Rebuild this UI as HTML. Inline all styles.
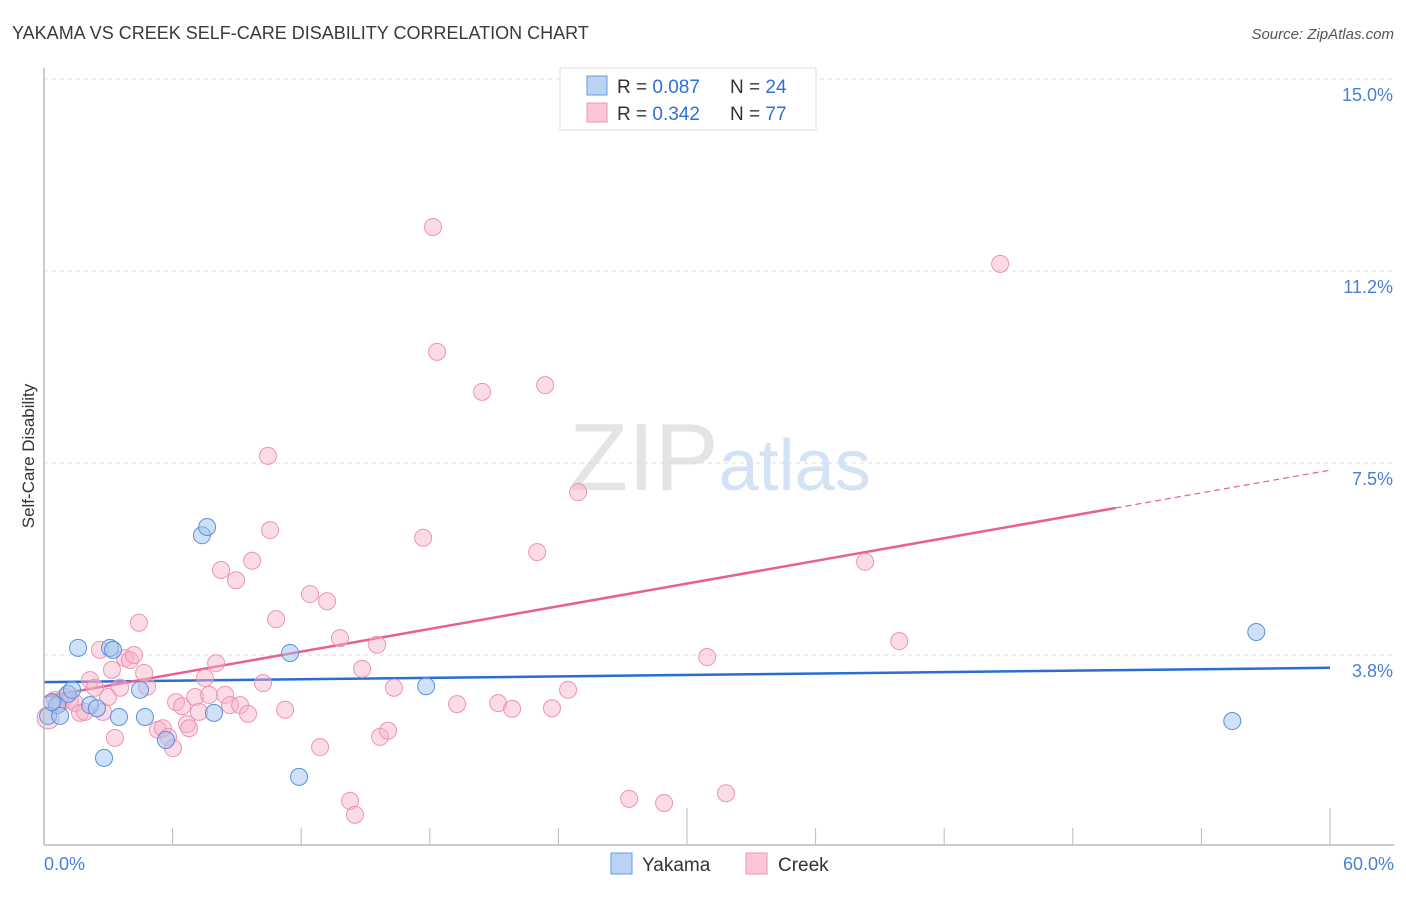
<!DOCTYPE html>
<html><head><meta charset="utf-8"><style>
body{margin:0;background:#fff;font-family:"Liberation Sans",sans-serif}
svg text{font-family:"Liberation Sans",sans-serif}
</style></head><body>
<svg id="chart" width="1406" height="892" xmlns="http://www.w3.org/2000/svg">
<text x="12" y="39" font-size="18" fill="#3a3a3a">YAKAMA VS CREEK SELF-CARE DISABILITY CORRELATION CHART</text>
<text x="1394" y="39" font-size="15" fill="#555" font-style="italic" text-anchor="end">Source: ZipAtlas.com</text>
<text x="720" y="490" font-size="96" text-anchor="middle" fill="#e4e4e4" font-family="Liberation Serif">ZIP<tspan fill="#d3e2f5" font-family="Liberation Sans" font-size="72">atlas</tspan></text>
<text transform="translate(34,456) rotate(-90)" font-size="17" fill="#333" text-anchor="middle">Self-Care Disability</text>
<g id="grid"></g><g id="ticks"></g><g id="trend"></g><g id="pts"></g>
<line x1="44" y1="845" x2="1394" y2="845" stroke="#bbb" stroke-width="1.5"/>
<line x1="44" y1="68" x2="44" y2="845" stroke="#bbb" stroke-width="1.5"/>
<text x="44" y="870" font-size="18" fill="#4a7fd6">0.0%</text>
<text x="1394" y="870" font-size="18" fill="#4a7fd6" text-anchor="end">60.0%</text>
<g>
<rect x="560" y="68" width="256" height="62" fill="#fff" stroke="#ddd"/>
<rect x="587" y="76" width="20" height="19" fill="#b8d3f5" stroke="#6a9be0"/>
<rect x="587" y="103" width="20" height="19" fill="#fbc6d6" stroke="#ee94b0"/>
<text x="617" y="93" font-size="19" fill="#333">R = <tspan fill="#2f6fd6">0.087</tspan><tspan x="730">N = </tspan><tspan fill="#2f6fd6">24</tspan></text>
<text x="617" y="120" font-size="19" fill="#333">R = <tspan fill="#2f6fd6">0.342</tspan><tspan x="730">N = </tspan><tspan fill="#2f6fd6">77</tspan></text>
</g>
<g>
<rect x="611" y="853" width="21" height="21" fill="#b8d3f5" stroke="#6a9be0"/>
<text x="642" y="871" font-size="19" fill="#333">Yakama</text>
<rect x="746" y="853" width="21" height="21" fill="#fbc6d6" stroke="#ee94b0"/>
<text x="778" y="871" font-size="19" fill="#333">Creek</text>
</g>
</svg>
<script>
const yTicks=[3.75,7.5,11.25,15];
const yTickLabels=["3.8%","7.5%","11.2%","15.0%"];
const xTicks=[0,6,12,18,24,30,36,42,48,54,60];
const yakamaX=[0.19,0.61,0.75,1.12,1.31,1.59,2.15,2.47,2.80,3.08,3.22,3.50,4.48,4.71,5.69,7.37,7.61,7.93,11.48,11.90,17.83,55.44,56.56,0.37];
const yakamaY=[2.56,2.77,2.56,2.99,3.07,3.89,2.77,2.71,1.74,3.89,3.85,2.54,3.07,2.54,2.09,6.09,6.25,2.62,3.79,1.37,3.14,2.46,4.20,2.83];
const creekX=[0.19,0.51,0.75,0.98,1.21,1.45,1.68,1.91,2.15,2.38,2.61,2.75,2.99,3.17,3.31,3.55,3.78,4.01,4.20,4.43,4.67,4.81,5.32,5.55,5.79,6.02,6.16,6.44,6.67,6.77,7.05,7.23,7.51,7.70,8.03,8.26,8.45,8.68,8.96,9.15,9.52,9.71,10.22,10.45,10.55,10.83,11.25,12.41,12.88,13.21,13.81,14.28,14.51,14.84,15.54,15.68,16.05,16.33,17.69,18.15,18.34,19.27,20.44,21.19,21.84,23.01,23.38,23.70,24.45,24.92,27.30,28.93,30.94,31.82,38.31,39.90,44.61];
const creekY=[2.52,2.87,2.81,2.93,2.87,2.81,2.62,2.64,3.26,3.11,3.85,2.64,2.93,3.46,2.13,3.11,3.69,3.65,3.75,4.38,3.40,3.13,2.29,2.32,2.15,1.93,2.83,2.75,2.40,2.32,2.93,2.64,3.30,2.97,3.59,5.41,2.97,2.77,5.21,2.77,2.60,5.59,3.20,7.64,6.19,4.45,2.68,4.94,1.95,4.80,4.08,0.90,0.63,3.48,3.95,2.15,2.27,3.11,6.04,12.11,9.67,2.79,8.89,2.81,2.70,5.76,9.02,2.71,3.07,6.93,0.94,0.86,3.71,1.05,5.57,4.02,11.39];
const yakamaTrend=[3.22,3.50];
const creekTrend=[2.93,7.36];
const creekSolidEnd=50;
const NS="http://www.w3.org/2000/svg";
const X=v=>44+v*(1286/60);
const Y=v=>655-(v-3.75)*51.2;
function mk(parent,tag,attrs){const e=document.createElementNS(NS,tag);for(const k in attrs)e.setAttribute(k,attrs[k]);document.getElementById(parent).appendChild(e);return e;}
yTicks.forEach((t,i)=>{
 const l=mk('grid','line',{x1:44,x2:1394,y1:Y(t),y2:Y(t),stroke:'#ddd','stroke-dasharray':'4,4'});
 
 
 const tx=mk('grid','text',{x:1393,y:Y(t)+22,'font-size':18,fill:'#4a7fd6','text-anchor':'end'});
 tx.textContent=yTickLabels[i];
 
 
});
const topGrid=mk('grid','line',{x1:44,x2:1394,y1:Y(15),y2:Y(15),stroke:'#ddd','stroke-dasharray':'4,4'});
xTicks.forEach(t=>{
 const tall=(t===30||t===60);
 const l=mk('ticks','line',{x1:X(t),x2:X(t),y1:tall?808:828,y2:845,stroke:'#bbb'});
 
 
});
const bl=mk('trend','line',{x1:X(0),y1:Y(yakamaTrend[0]),x2:X(60),y2:Y(yakamaTrend[1]),stroke:'#2a6dd4','stroke-width':2.5});


const cAt=x=>creekTrend[0]+(creekTrend[1]-creekTrend[0])*x/60;
const pl=mk('trend','line',{x1:X(0),y1:Y(cAt(0)),x2:X(creekSolidEnd),y2:Y(cAt(creekSolidEnd)),stroke:'#e8608e','stroke-width':2.5});


const pd=mk('trend','line',{x1:X(creekSolidEnd),y1:Y(cAt(creekSolidEnd)),x2:X(60),y2:Y(cAt(60)),stroke:'#e8608e','stroke-width':1.2,'stroke-dasharray':'6,4'});


creekX.forEach((x,i)=>{
 const c=mk('pts','circle',{cx:X(x),cy:Y(creekY[i]),r:i===0?11:8.5,fill:'rgba(247,178,200,0.45)',stroke:'#ee94b0','stroke-width':1});
 
 
});
yakamaX.forEach((x,i)=>{
 const c=mk('pts','circle',{cx:X(x),cy:Y(yakamaY[i]),r:8.5,fill:'rgba(160,195,240,0.5)',stroke:'#5b8fdc','stroke-width':1});
 
 
});
</script>
</body></html>
